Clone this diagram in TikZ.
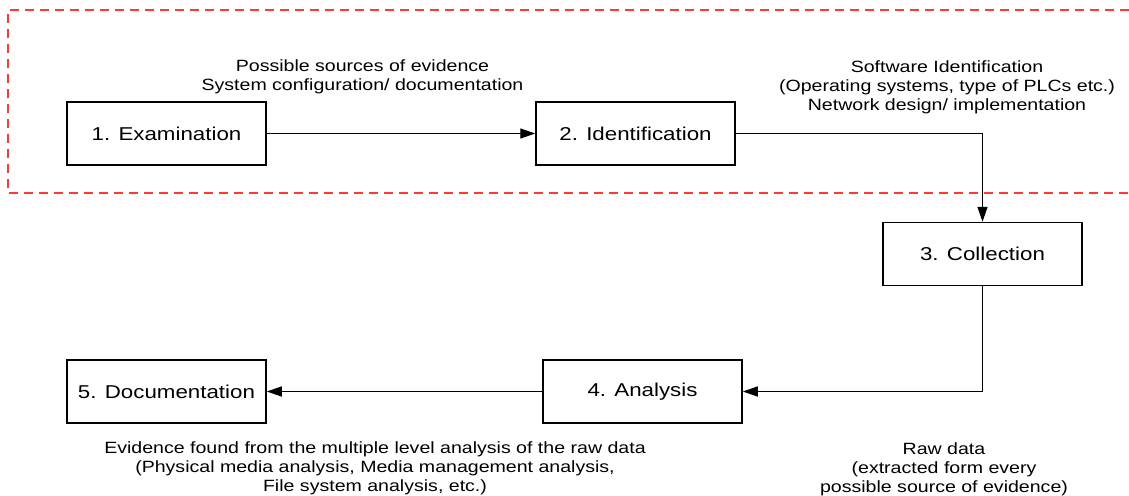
\documentclass[tikz,border=0pt]{standalone}
\usepackage{fontspec}
\setmainfont{Liberation Sans}[FakeStretch=1.2]
\usetikzlibrary{arrows.meta}
\definecolor{dashred}{RGB}{255,55,55}
\tikzset{
  stagebox/.style={draw=black, line width=1.5pt, minimum width=199pt, minimum height=63pt, inner sep=0pt, font=\fontsize{18.6}{22}\selectfont},
  note/.style={align=center, inner sep=0pt, anchor=north, font=\fontsize{16.3}{19.2}\selectfont},
  conn/.style={draw=black, line width=1.4pt, -{Triangle[length=15pt,width=10pt]}},
  region/.style={draw=dashred, line width=1.4pt, dash pattern=on 9pt off 6pt}
}
\begin{document}
\begin{tikzpicture}[x=1pt, y=-1pt]
\useasboundingbox (0,0) rectangle (1129,495);
\fill[white] (0,0) rectangle (1129,495);
\draw[region] (1129,10) -- (8,10) -- (8,193) -- (1129,193);

\node[stagebox] (b1) at (166.5,133.5) {1. Examination};
\node[stagebox] (b2) at (635.5,133.5) {2. Identification};
\node[stagebox] (b3) at (982.5,254) {3. Collection};
\node[stagebox] (b4) at (642.5,391.5) {4. Analysis};
\node[stagebox] (b5) at (166.5,391.5) {5. Documentation};

\draw[conn] (b1) -- (b2);
\draw[conn] (b2.east) -| (b3.north);
\draw[conn] (b3.south) |- (b4.east);
\draw[conn] (b4) -- (b5);

\node[note] (n1) at (362.5,59) {Possible sources of evidence\\System configuration/ documentation};
\node[note] (n2) at (947,60) {Software Identification\\(Operating systems, type of PLCs etc.)\\Network design/ implementation};
\node[note] (n3) at (375,441.5) {Evidence found from the multiple level analysis of the raw data\\(Physical media analysis, Media management analysis,\\File system analysis, etc.)};
\node[note] (n4) at (944,442) {Raw data\\(extracted form every\\possible source of evidence)};
\end{tikzpicture}
\end{document}
